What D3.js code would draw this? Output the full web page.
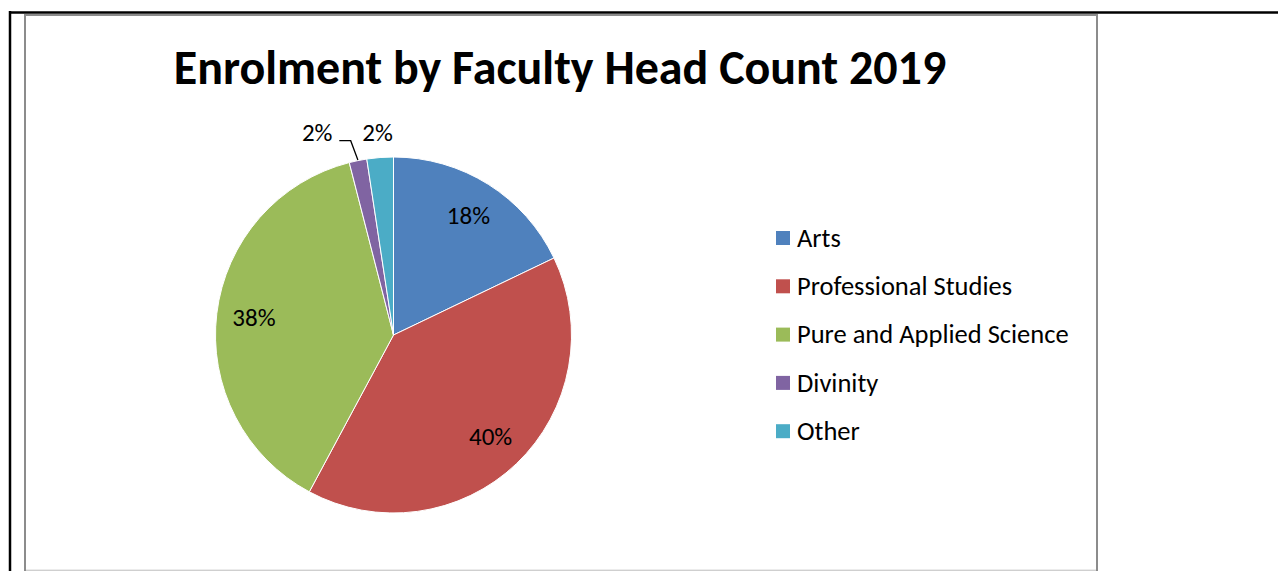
<!DOCTYPE html>
<html>
<head>
<meta charset="utf-8">
<script src="https://cdn.jsdelivr.net/npm/d3@7"></script>
<style>
	body { margin: 0; background: #fff; }
	svg { display: block; }
</style>
</head>
<body>
<svg id="chart" width="1278" height="571"></svg>
<script>
// Werte (Anteile in %)
const categories = ["Arts", "Professional Studies", "Pure and Applied Science", "Divinity", "Other"];
const values = [17.9, 40.0, 38.2, 1.6, 2.4];
const colors = ["#4F81BD", "#C0504D", "#9BBB59", "#8064A2", "#4BACC6"];
const title = "Enrolment by Faculty Head Count 2019";

const fontFamily = "Carlito, Calibri, 'Open Sans', sans-serif";
const svg = d3.select("#chart");

// Seitenrahmen (schwarz) und Diagrammrahmen (grau)
svg.append("line").attr("x1", 9).attr("x2", 1278).attr("y1", 12.5).attr("y2", 12.5)
	.style("stroke", "#000").style("stroke-width", 2.5);
svg.append("line").attr("x1", 10).attr("x2", 10).attr("y1", 11).attr("y2", 571)
	.style("stroke", "#000").style("stroke-width", 2.5);
svg.append("rect").attr("x", 25).attr("y", 15).attr("width", 1072).attr("height", 556)
	.style("fill", "#fff").style("stroke", "#8c8c8c").style("stroke-width", 2);
svg.append("line").attr("x1", 26).attr("x2", 1096).attr("y1", 570).attr("y2", 570)
	.style("stroke", "#e6e6e6").style("stroke-width", 1.5);

svg.append("text").text(title)
	.attr("x", 560).attr("y", 84)
	.attr("font-family", fontFamily).attr("font-size", 48).attr("font-weight", "bold")
	.style("text-anchor", "middle");

const cx = 393.5, cy = 335, radius = 178;
const labelSize = 25;
const pie = d3.pie().sort(null).value(d => d)(values);
const arc = d3.arc().innerRadius(0).outerRadius(radius);
const total = d3.sum(values);

const g = svg.append("g").attr("transform", "translate(" + cx + "," + cy + ")");
g.selectAll("path.slice").data(pie).enter().append("path")
	.attr("class", "slice")
	.attr("d", arc)
	.style("fill", (d, i) => colors[i])
	.style("stroke", "#fff").style("stroke-width", 1);

// Beschriftungen: grosse Segmente innen, kleine aussen
const innerArc = d3.arc().innerRadius(radius * 0.79).outerRadius(radius * 0.79);
const pct = d => Math.round(d.value / total * 100) + "%";

pie.forEach(function (d, i) {
	const frac = d.value / total;
	if (frac > 0.05) {
		const p = innerArc.centroid(d);
		g.append("text").text(pct(d))
			.attr("x", p[0]).attr("y", p[1]).attr("dy", "0.33em")
			.attr("font-family", fontFamily).attr("font-size", labelSize)
			.style("text-anchor", "middle");
	}
});

// kleine Segmente: Divinity mit Fuehrungslinie, Other direkt darueber
const mid = d => (d.startAngle + d.endAngle) / 2;
const divi = pie[3], other = pie[4];
const edge = [Math.sin(mid(divi)) * (radius + 0.5), -Math.cos(mid(divi)) * (radius + 0.5)];
const lx = -42.8, ly = -194.3;
g.append("polyline")
	.attr("points", [[lx - 11.4, ly], [lx, ly], edge].map(p => p.join(",")).join(" "))
	.style("fill", "none").style("stroke", "#000").style("stroke-width", 1.3);
g.append("text").text(pct(divi))
	.attr("x", lx - 33.5).attr("y", -202.5).attr("dy", "0.33em")
	.attr("font-family", fontFamily).attr("font-size", labelSize)
	.style("text-anchor", "middle");
g.append("text").text(pct(other))
	.attr("x", Math.sin(mid(other)) * radius - 2.5).attr("y", -202.5).attr("dy", "0.33em")
	.attr("font-family", fontFamily).attr("font-size", labelSize)
	.style("text-anchor", "middle");

// Legende
const legend = svg.append("g").attr("transform", "translate(776,238)");
const rowGap = 48.3;
categories.forEach(function (c, i) {
	legend.append("rect").attr("x", 0).attr("y", i * rowGap - 7).attr("width", 14).attr("height", 14)
		.style("fill", colors[i]);
	legend.append("text").text(c)
		.attr("x", 21).attr("y", i * rowGap).attr("dy", "0.33em")
		.attr("font-family", fontFamily).attr("font-size", 26.5)
		.style("text-anchor", "start");
});
</script>
</body>
</html>
